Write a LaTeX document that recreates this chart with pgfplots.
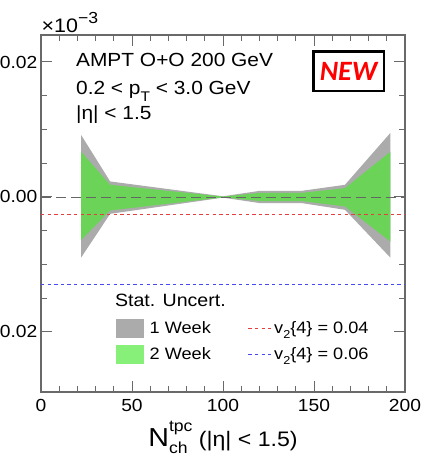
\documentclass[border=0pt]{standalone}
\usepackage{fontspec}
\setmainfont{Liberation Sans}[FakeStretch=1.1]
\newfontfamily\newtagfont{Carlito}
\usepackage{pgfplots}
\usepackage{pgfplotstable}
\pgfplotsset{compat=1.18}
\usepgfplotslibrary{fillbetween}

\definecolor{band1}{RGB}{171,171,171}
\definecolor{band2}{RGB}{107,211,88}
\definecolor{band2key}{RGB}{134,240,120}
\definecolor{v2red}{RGB}{228,62,62}
\definecolor{v2blue}{RGB}{72,72,240}
\definecolor{frame}{RGB}{105,105,105}

% statistical uncertainty bands of c2{4} (in units of 1e-3)
% lo1/hi1: 1 week, lo2/hi2: 2 weeks
\pgfplotstableread{
x    lo1       hi1      lo2       hi2
22   -0.0090   0.0092   -0.0064   0.0067
38   -0.0025   0.0023   -0.0020   0.0018
100  -0.0001   0.0001   -0.00005  0.00005
120  -0.0009   0.0009   -0.0006   0.0006
143  -0.0009   0.0009   -0.0006   0.0006
167  -0.0019   0.0018   -0.0014   0.0013
192  -0.0090   0.0095   -0.0066   0.0067
}\bands

\newcommand{\vtwo}{v\raisebox{-0.28em}{\fontsize{11.5}{13}\selectfont 2}}

\begin{document}
\begin{tikzpicture}
\begin{axis}[
  name=ax,
  width=364pt, height=357pt, scale only axis,
  xmin=0, xmax=200, ymin=-0.0289, ymax=0.024,
  xtick={0,50,100,150,200}, minor x tick num=4,
  ytick={-0.02,0,0.02}, yticklabels={−0.02,0.00,0.02},
  minor y tick num=3,
  scaled y ticks=false, scaled x ticks=false,
  /pgf/number format/assume math mode=true,
  tick align=inside,
  major tick length=11pt, minor tick length=6pt,
  every tick/.style={frame, line width=1pt},
  axis line style={frame, line width=1.3pt},
  tick label style={font=\fontsize{17.5}{20}\selectfont},
  xticklabel style={inner sep=0pt, anchor=north, yshift=-7.5pt},
  yticklabel style={inner sep=0pt, anchor=east, xshift=-3.5pt},
  xlabel={{\fontsize{26}{28}\selectfont N}\rlap{\raisebox{-0.3em}{\fontsize{16}{18}\selectfont ch}}\raisebox{0.75em}{\fontsize{16}{18}\selectfont tpc} (|η| < 1.5)},
  xlabel style={font=\fontsize{21}{24}\selectfont, at={(axis description cs:0.5,0)}, anchor=base, yshift=-55pt, inner sep=0pt},
  legend columns=2,
  legend cell align=left,
  legend style={at={(rel axis cs:0.206,0.2036)}, anchor=north west,
    draw=none, fill=none, inner sep=0pt, outer sep=0pt,
    row sep=8.3pt, column sep=2pt,
    font=\fontsize{16.5}{19}\selectfont,
    nodes={inner sep=0pt},
    /tikz/every even column/.append style={column sep=37pt}},
]
% bands
\addplot[name path=g1lo, draw=none, forget plot] table[x=x, y=lo1]{\bands};
\addplot[name path=g1hi, draw=none, forget plot] table[x=x, y=hi1]{\bands};
\addplot[band1, forget plot] fill between[of=g1lo and g1hi];
\addplot[name path=g2lo, draw=none, forget plot] table[x=x, y=lo2]{\bands};
\addplot[name path=g2hi, draw=none, forget plot] table[x=x, y=hi2]{\bands};
\addplot[band2, forget plot] fill between[of=g2lo and g2hi];

% zero reference
\addplot[black!60, line width=0.9pt, dash pattern=on 10pt off 5pt, forget plot]
  coordinates {(0,0) (200,0)};
% expected c2{4} = -v2{4}^4
\addplot[v2red, line width=1.1pt, dash pattern=on 3.3pt off 3.3pt, forget plot]
  coordinates {(0,-0.00256) (200,-0.00256)};
\addplot[v2blue, line width=1.1pt, dash pattern=on 3.3pt off 3.3pt, forget plot]
  coordinates {(0,-0.01296) (200,-0.01296)};

% legend keys
\addlegendimage{legend image code/.code={\fill[band1] (0pt,-8.7pt) rectangle (26.7pt,8.7pt); \path (31.3pt,0pt);}}
\addlegendentry{1 Week}
\addlegendimage{legend image code/.code={\draw[v2red, line width=1pt, dash pattern=on 3.3pt off 3.3pt] (0pt,0pt) -- (23.3pt,0pt);}}
\addlegendentry{\vtwo\{4\} = 0.04}
\addlegendimage{legend image code/.code={\fill[band2key] (0pt,-8.7pt) rectangle (26.7pt,8.7pt); \path (31.3pt,0pt);}}
\addlegendentry{2 Week}
\addlegendimage{legend image code/.code={\draw[v2blue, line width=1pt, dash pattern=on 3.3pt off 3.3pt] (0pt,0pt) -- (23.3pt,0pt);}}
\addlegendentry{\vtwo\{4\} = 0.06}

% annotations
\node[anchor=base west, inner sep=0pt, font=\fontsize{19}{22}\selectfont]
  at (rel axis cs:0.096,0.911) {AMPT O+O 200 GeV};
\node[anchor=base west, inner sep=0pt, font=\fontsize{19}{22}\selectfont]
  at (rel axis cs:0.096,0.832) {0.2 < p\raisebox{-0.35em}{\fontsize{14}{16}\selectfont T} < 3.0 GeV};
\node[anchor=base west, inner sep=0pt, font=\fontsize{19}{22}\selectfont]
  at (rel axis cs:0.096,0.764) {|η| < 1.5};
\node[anchor=base west, inner sep=0pt, font=\fontsize{17.8}{20}\selectfont]
  at (rel axis cs:0.203,0.239) {Stat. Uncert.};
\node[draw=black, line width=2.5pt, minimum width=70.5pt, minimum height=39.5pt,
  inner sep=0pt, text=red, font=\newtagfont\bfseries\itshape\fontsize{28}{30}\selectfont]
  at (rel axis cs:0.845,0.899) {NEW};
\end{axis}
\node[anchor=base west, inner sep=0pt, font=\fontsize{19.5}{21}\selectfont]
  at ([xshift=0.5pt, yshift=2pt]ax.north west) {×10\raisebox{0.5em}{\fontsize{16}{18}\selectfont −3}};
\pgfresetboundingbox
\path[use as bounding box] ([xshift=-41pt, yshift=-70pt]ax.south west) rectangle ([xshift=31pt, yshift=35pt]ax.north east);
\end{tikzpicture}
\end{document}
